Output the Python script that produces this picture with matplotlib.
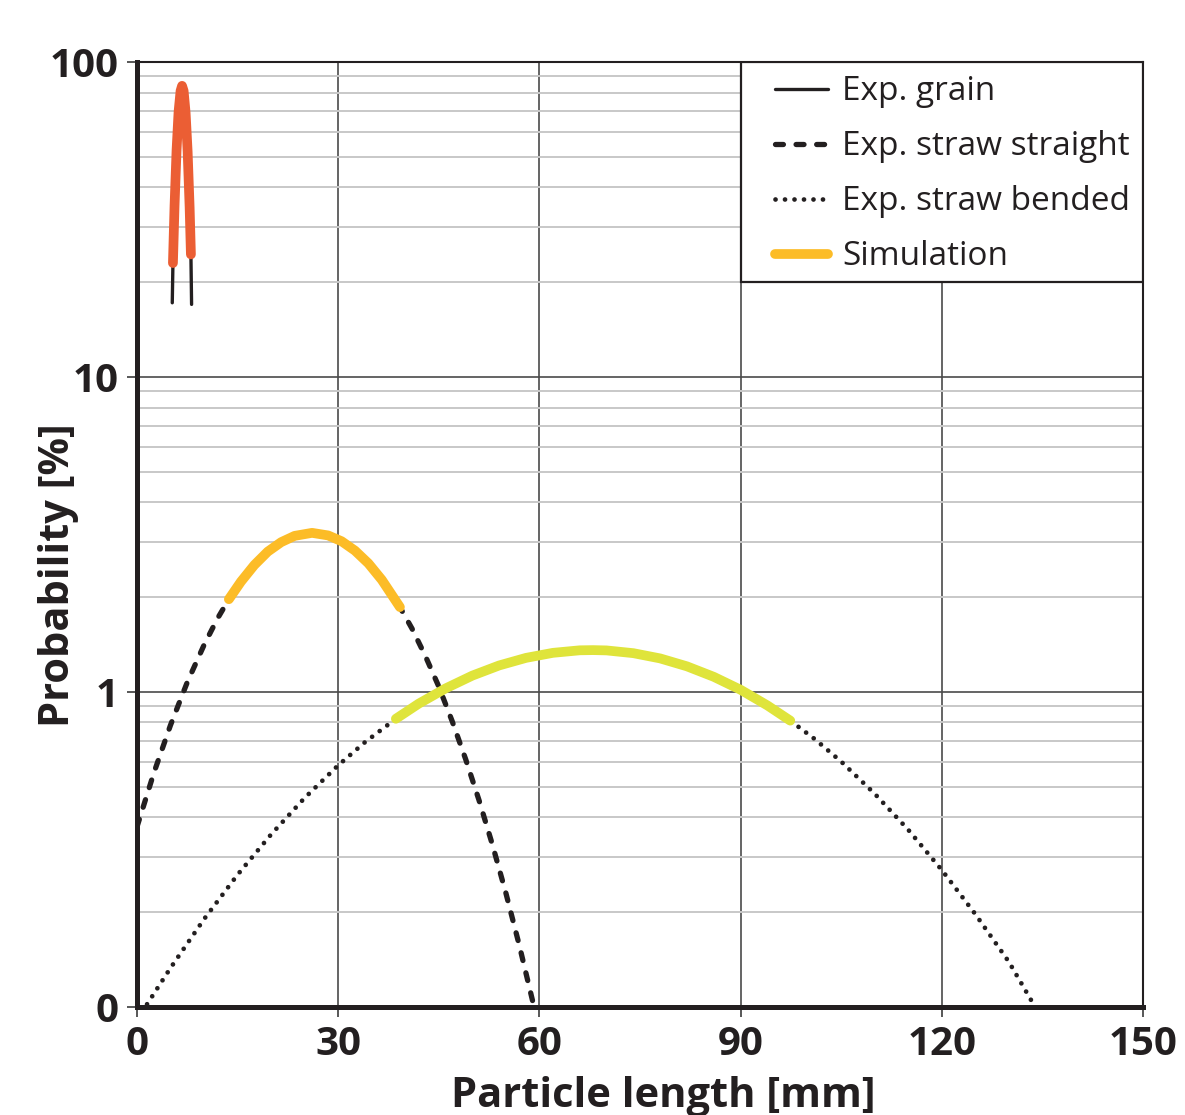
import matplotlib

matplotlib.use("Agg")

import matplotlib.pyplot as plt
from matplotlib.patches import Rectangle
from matplotlib.ticker import FixedLocator, LogLocator, NullFormatter

plt.rcParams["font.family"] = ["Open Sans", "DejaVu Sans"]

grain_x = [5.26, 5.36, 5.6, 5.9, 6.2, 6.5, 6.72, 6.95, 7.25, 7.55, 7.85, 8.04, 8.14]
grain_y = [17.2, 23.0, 35.0, 52.5, 69.5, 81.0, 84.0, 81.0, 69.0, 52.0, 34.5, 24.5, 17.0]

straight_x = [0, 2.5, 5, 7.5, 10, 12, 13.7, 15.5, 17.5, 19.5, 21.5, 23.5, 26.1,
              28.5, 30.5, 32.5, 34.5, 36.5, 39.2, 41, 43, 45, 47, 49, 51, 53, 55,
              57, 59.2]
straight_y = [0.373, 0.552, 0.785, 1.074, 1.41, 1.71, 1.97, 2.24, 2.53, 2.79, 2.99,
              3.13, 3.20, 3.14, 3.01, 2.81, 2.56, 2.27, 1.86, 1.59, 1.30, 1.04,
              0.807, 0.612, 0.453, 0.327, 0.230, 0.157, 0.1]

bended_x = [1.5, 5, 10, 15, 20, 25, 30, 34, 38.6, 42, 46, 50, 54, 58, 62, 66, 68,
            70, 74, 78, 82, 86, 90, 94, 97.4, 101, 105, 110, 115, 120, 125, 130,
            133.9]
bended_y = [0.102, 0.133, 0.190, 0.263, 0.353, 0.461, 0.585, 0.693, 0.822, 0.918,
            1.026, 1.127, 1.214, 1.283, 1.331, 1.356, 1.358, 1.355, 1.328, 1.278,
            1.206, 1.117, 1.016, 0.906, 0.811, 0.710, 0.601, 0.475, 0.365, 0.272,
            0.197, 0.139, 0.1]

# simulation curves
sim_grain_x = [5.36, 5.6, 5.9, 6.2, 6.5, 6.72, 6.95, 7.25, 7.55, 7.85, 8.04]
sim_grain_y = [23.0, 35.0, 52.5, 69.5, 81.0, 84.0, 81.0, 69.0, 52.0, 34.5, 24.5]

sim_straight_x = [13.7, 15.5, 17.5, 19.5, 21.5, 23.5, 26.1, 28.5, 30.5, 32.5,
                  34.5, 36.5, 39.2]
sim_straight_y = [1.97, 2.24, 2.53, 2.79, 2.99, 3.13, 3.20, 3.14, 3.01, 2.81,
                  2.56, 2.27, 1.86]

sim_bended_x = [38.6, 42, 46, 50, 54, 58, 62, 66, 68, 70, 74, 78, 82, 86, 90,
                94, 97.4]
sim_bended_y = [0.822, 0.918, 1.026, 1.127, 1.214, 1.283, 1.331, 1.356, 1.358,
                1.355, 1.328, 1.278, 1.206, 1.117, 1.016, 0.906, 0.811]

x_ticks = [0, 30, 60, 90, 120, 150]
y_ticks = [0.1, 1, 10, 100]
y_tick_labels = ["0", "1", "10", "100"]

legend_labels = ["Exp. grain", "Exp. straw straight", "Exp. straw bended", "Simulation"]

black = "#231f20"
c_grain = "#eb5e34"
c_straight = "#fcbc27"
c_bended = "#dfe43b"

fig = plt.figure(figsize=(11.85, 11.15), dpi=100)
ax = fig.add_axes([0.1156, 0.0969, 0.849, 0.8475])

ax.set_yscale("log")
ax.set_xlim(0, 150)
ax.set_ylim(0.1, 100)

ax.yaxis.set_major_locator(FixedLocator(y_ticks))
ax.yaxis.set_minor_locator(LogLocator(base=10, subs=range(2, 10)))
ax.yaxis.set_minor_formatter(NullFormatter())
ax.set_yticklabels(y_tick_labels)
ax.set_xticks(x_ticks)

ax.grid(True, which="minor", axis="y", color="#c8c8c8", linewidth=1.4)
ax.grid(True, which="major", axis="both", color="#4a4a4a", linewidth=1.2)
ax.set_axisbelow(True)

l_grain, = ax.plot(grain_x, grain_y, color=black, linewidth=2.4,
                   solid_capstyle="round")
l_str, = ax.plot(straight_x, straight_y, color=black, linewidth=3.8,
                 linestyle=(0, (1.5, 2.4)), dash_capstyle="round")
l_ben, = ax.plot(bended_x, bended_y, color=black, linewidth=3.4,
                 linestyle=(0, (0.01, 2.0)), dash_capstyle="round")

ax.plot(sim_grain_x, sim_grain_y, color=c_grain, linewidth=7,
        solid_capstyle="round", solid_joinstyle="round")
l_sim, = ax.plot(sim_straight_x, sim_straight_y, color=c_straight, linewidth=7,
                 solid_capstyle="round", solid_joinstyle="round")
ax.plot(sim_bended_x, sim_bended_y, color=c_bended, linewidth=7,
        solid_capstyle="round", solid_joinstyle="round")

for side in ["left", "bottom"]:
    ax.spines[side].set_linewidth(3.6)
    ax.spines[side].set_color(black)
for side in ["top", "right"]:
    ax.spines[side].set_linewidth(1.5)
    ax.spines[side].set_color(black)

ax.tick_params(axis="both", which="major", direction="out", length=7, width=1.3,
               color="#4a4a4a", labelsize=29, labelcolor=black, pad=6)
ax.tick_params(axis="y", which="minor", length=0)
for lab in ax.get_xticklabels() + ax.get_yticklabels():
    lab.set_fontweight("bold")

ax.set_xlabel("Particle length [mm]", fontsize=30, fontweight="bold", color=black)
ax.set_ylabel("Probability [%]", fontsize=30, fontweight="bold", color=black)
ax.xaxis.set_label_coords(0.523, -0.073)
ax.yaxis.set_label_coords(-0.058, 0.457)

# legend frame drawn separately so the inner margins match
box = Rectangle((0.6004, 0.7672), 0.3996, 0.2328, transform=ax.transAxes,
                facecolor="white", edgecolor=black, linewidth=1.6, zorder=5)
ax.add_patch(box)

leg = ax.legend([l_grain, l_str, l_ben, l_sim], legend_labels,
                loc="upper left", bbox_to_anchor=(0.634, 0.986), borderaxespad=0,
                frameon=False, prop={"size": 24, "weight": "medium"},
                handlelength=1.6, handletextpad=0.42, labelspacing=0.66,
                borderpad=0)
leg.set_zorder(6)
for t in leg.get_texts():
    t.set_color(black)

fig.savefig("out.png", dpi=100)
plt.close(fig)
